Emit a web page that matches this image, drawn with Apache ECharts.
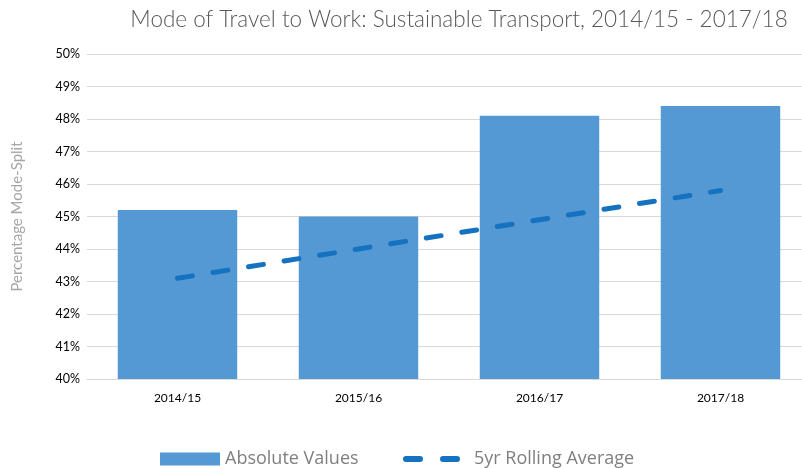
<!DOCTYPE html>
<html>
<head>
<meta charset="utf-8">
<script src="https://cdn.jsdelivr.net/npm/echarts@6/dist/echarts.min.js"></script>
<style>
    html, body { margin: 0; padding: 0; background: #fff; }
    #chart { width: 802px; height: 468px; }
</style>
</head>
<body>
<div id="chart"></div>
<script>
const years = ['2014/15', '2015/16', '2016/17', '2017/18']
const absoluteValues = [45.2, 45.0, 48.1, 48.4]
const rollingAverage = [43.1, 44.0, 44.9, 45.8]

const font = 'Lato, "Open Sans", sans-serif'

const chart = echarts.init(document.getElementById('chart'))

const option = {
    animation: false,
    title: {
        text: 'Mode of Travel to Work: Sustainable Transport, 2014/15 - 2017/18',
        left: 454,
        top: 3,
        textAlign: 'center',
        textStyle: {
            color: '#595959',
            fontSize: 22.5,
            fontWeight: 300,
            fontFamily: font
        }
    },
    grid: {
        left: 87,
        top: 54,
        bottom: 89,
        width: 724,
        outerBoundsMode: 'none'
    },
    legend: [
        {
            left: 155,
            top: 445,
            icon: 'rect',
            itemWidth: 60,
            itemHeight: 13,
            textStyle: { color: '#7f7f7f', fontSize: 18, fontFamily: '"Open Sans", sans-serif' },
            data: ['Absolute Values']
        },
        {
            left: 398,
            top: 445,
            itemWidth: 57,
            itemHeight: 6,
            data: [{
                name: '5yr Rolling Average',
                icon: 'path://M3,0h14a3,3 0 0 1 0,6h-14a3,3 0 0 1 0,-6z M40,0h14a3,3 0 0 1 0,6h-14a3,3 0 0 1 0,-6z'
            }],
            textStyle: { color: '#7f7f7f', fontSize: 18, fontFamily: '"Open Sans", sans-serif', padding: [0, 0, 0, 9] }
        }
    ],
    xAxis: {
        type: 'category',
        data: years,
        axisTick: { show: false },
        axisLine: { lineStyle: { color: '#d9d9d9', width: 1 } },
        axisLabel: { color: '#000', fontSize: 12, margin: 13, fontFamily: font }
    },
    yAxis: {
        type: 'value',
        min: 40,
        max: 50,
        interval: 1,
        name: 'Percentage Mode-Split',
        nameLocation: 'middle',
        nameGap: 62,
        nameTextStyle: { color: '#a6a6a6', fontSize: 15, fontFamily: font },
        axisLine: { show: false },
        axisTick: { show: false },
        splitLine: { lineStyle: { color: '#d9d9d9', width: 1 } },
        axisLabel: {
            formatter: '{value}%',
            color: '#000',
            fontSize: 12.5,
            margin: 7,
            fontFamily: font
        }
    },
    series: [
        {
            name: 'Absolute Values',
            type: 'bar',
            barCategoryGap: '34%',
            itemStyle: { color: '#5499d3' },
            data: absoluteValues
        },
        {
            name: '5yr Rolling Average',
            type: 'line',
            showSymbol: false,
            symbol: 'none',
            itemStyle: { color: '#1472c0' },
            lineStyle: {
                color: '#1472c0',
                width: 5,
                type: [15, 21],
                cap: 'round'
            },
            data: rollingAverage
        }
    ]
}

chart.setOption(option)
</script>
</body>
</html>
